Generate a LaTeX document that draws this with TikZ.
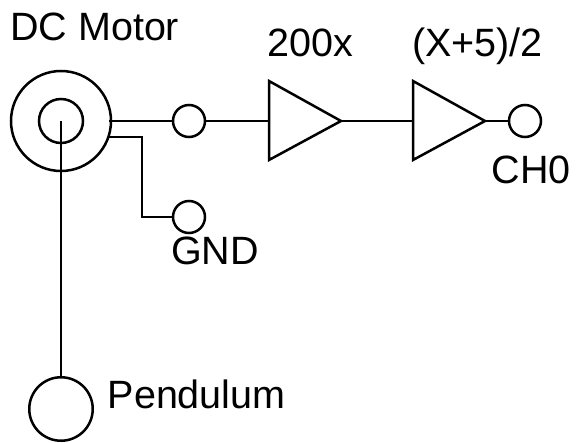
\documentclass[tikz,border=0pt]{standalone}
\usepackage{fontspec}
\setmainfont{Liberation Sans}
\tikzset{
  wire/.style={line width=2.5pt,black},
  ring/.style={circle,draw,line width=2.5pt,inner sep=0pt,outer sep=0pt},
  term/.style={ring,minimum size=32pt},
  label/.style={inner sep=0pt,font=\fontsize{39.5}{39.5}\selectfont,anchor=base west},
}
\begin{document}
\begin{tikzpicture}[x=1pt,y=-1pt]
\useasboundingbox (0,0) rectangle (576,443);
\node[ring,minimum size=100pt] (outer) at (61,121) {};
\node[ring,minimum size=44pt] (inner) at (61,121) {};
\coordinate (shaft) at (61,121);
\node[term] (t1) at (189,121) {};
\node[term] (gnd) at (189,217) {};
\node[term] (ch0) at (525,121) {};
\node[ring,minimum size=63.5pt] (pend) at (61,409) {};
\coordinate (a1w) at (269,121);
\coordinate (a1e) at (341,121);
\coordinate (a2w) at (413,121);
\coordinate (a2e) at (485,121);
\draw[wire,line join=miter] (269,81) -- (a1e) -- (269,160) -- cycle;
\draw[wire,line join=miter] (413,81) -- (a2e) -- (413,160) -- cycle;
\coordinate (m1) at (109,121);
\coordinate (m2) at (109,137);
\coordinate (bend1) at (142,137);
\coordinate (bend2) at (142,217);
\draw[wire] (m1) -- (t1);
\draw[wire] (t1) -- (a1w);
\draw[wire] (a1e) -- (a2w);
\draw[wire] (a2e) -- (ch0);
\draw[wire] (m2) -- (bend1) -- (bend2) -- (gnd);
\draw[wire] (shaft) -- (pend);
\node[label] (l1) at (10,41) {DC Motor};
\node[label] (l2) at (267,57) {200x};
\node[label] (l3) at (412,57) {(X+5)/2};
\node[label] (l4) at (491.5,184) {CH0};
\node[label] (l5) at (171,265) {GND};
\node[label] (l6) at (107.5,408.5) {Pendulum};
\end{tikzpicture}
\end{document}
